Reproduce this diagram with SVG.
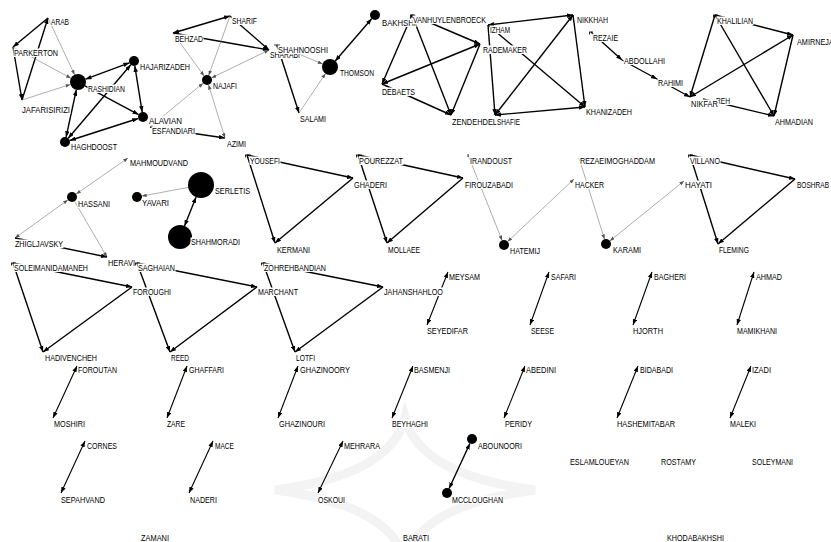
<svg xmlns="http://www.w3.org/2000/svg" width="831" height="542" viewBox="0 0 831 542">
<defs>
<style>
.k{stroke:#000;stroke-width:1.4;fill:none}
.g{stroke:#777;stroke-width:0.6;fill:none}
.p{stroke:#000;stroke-width:1.1;fill:none}
.e{marker-end:url(#ak)}
.b{marker-start:url(#ak);marker-end:url(#ak)}
.ge{marker-end:url(#ag)}
.gb{marker-start:url(#ag);marker-end:url(#ag)}
rect.l{fill:#fff}
text{font-family:"Liberation Sans",Arial,sans-serif;font-size:9px;fill:#000}
.d{fill:#000}
.m{stroke:#000;stroke-width:0.8;fill:none}
.wm{stroke:#f3f3f3;stroke-width:9;fill:none}
</style>
<marker id="ak" viewBox="0 0 8 6" refX="8" refY="3" markerWidth="6" markerHeight="4.5" markerUnits="userSpaceOnUse" orient="auto-start-reverse"><path d="M0,0 L8,3 L0,6 z" fill="#000"/></marker>
<marker id="ag" viewBox="0 0 8 6" refX="8" refY="3" markerWidth="5" markerHeight="3.6" markerUnits="userSpaceOnUse" orient="auto-start-reverse"><path d="M0,0 L8,3 L0,6 z" fill="#555"/></marker>
</defs>
<rect width="831" height="542" fill="#fff"/>
<g id="watermark">
<path class="wm" d="M405,418 Q420,475 535,490 Q420,505 405,560 Q390,505 275,490 Q390,475 405,418 Z"/>
</g>
<g id="edges">
<line class="k e" x1="48" y1="18" x2="13" y2="47"/>
<line class="k e" x1="13" y1="47" x2="22" y2="100"/>
<line class="k e" x1="22" y1="100" x2="48" y2="18"/>
<line class="g ge" x1="48" y1="18" x2="74.6" y2="74.8"/>
<line class="g ge" x1="13" y1="47" x2="71" y2="78.2"/>
<line class="g ge" x1="22" y1="100" x2="70.4" y2="84.4"/>
<line class="k b" x1="85.5" y1="79.2" x2="129.3" y2="62.8"/>
<line class="k e" x1="85" y1="85.8" x2="138.6" y2="114.6"/>
<line class="k b" x1="76.3" y1="89.8" x2="66.1" y2="137.1"/>
<line class="k b" x1="134.8" y1="65.9" x2="142.2" y2="112.1"/>
<line class="k b" x1="68.2" y1="138.2" x2="130.8" y2="64.8"/>
<line class="k b" x1="69.8" y1="140.5" x2="138.2" y2="118.5"/>
<line class="k b" x1="173" y1="33" x2="230" y2="16"/>
<line class="k e" x1="173" y1="33" x2="269" y2="50"/>
<line class="k e" x1="230" y1="16" x2="269" y2="50"/>
<line class="k e" x1="150" y1="127" x2="225" y2="138"/>
<line class="g ge" x1="150" y1="127" x2="203.1" y2="83.2"/>
<line class="g ge" x1="230" y1="16" x2="208.7" y2="75.3"/>
<line class="g ge" x1="173" y1="33" x2="204.1" y2="76"/>
<line class="g gb" x1="269" y1="50" x2="211.5" y2="77.9"/>
<line class="g gb" x1="208.5" y1="84.8" x2="225" y2="138"/>
<line class="k e" x1="277" y1="45" x2="299" y2="113"/>
<line class="g ge" x1="299" y1="113" x2="325.5" y2="73.6"/>
<line class="g ge" x1="277" y1="45" x2="322.6" y2="63.9"/>
<line class="k b" x1="335.2" y1="61" x2="371.7" y2="18.8"/>
<line class="k e" x1="412" y1="15" x2="382" y2="84"/>
<line class="k e" x1="412" y1="15" x2="451" y2="115"/>
<line class="k e" x1="412" y1="15" x2="480" y2="44"/>
<line class="k b" x1="382" y1="84" x2="480" y2="44"/>
<line class="k e" x1="382" y1="84" x2="451" y2="115"/>
<line class="k e" x1="480" y1="44" x2="451" y2="115"/>
<line class="k b" x1="488" y1="25" x2="573" y2="15"/>
<line class="k e" x1="488" y1="25" x2="495" y2="115"/>
<line class="k e" x1="488" y1="25" x2="585" y2="107"/>
<line class="k b" x1="573" y1="15" x2="495" y2="115"/>
<line class="k e" x1="573" y1="15" x2="585" y2="107"/>
<line class="k b" x1="495" y1="115" x2="585" y2="107"/>
<line class="k e" x1="591" y1="32" x2="622" y2="60"/>
<line class="k e" x1="622" y1="60" x2="657" y2="79"/>
<line class="k e" x1="657" y1="79" x2="690" y2="97"/>
<line class="k e" x1="715" y1="15" x2="793" y2="35"/>
<line class="k e" x1="715" y1="15" x2="690" y2="97"/>
<line class="k e" x1="715" y1="15" x2="774" y2="116"/>
<line class="k b" x1="793" y1="35" x2="690" y2="97"/>
<line class="k e" x1="793" y1="35" x2="774" y2="116"/>
<line class="k e" x1="703" y1="99" x2="774" y2="116"/>
<line class="g gb" x1="76.1" y1="194.1" x2="128" y2="158"/>
<line class="g gb" x1="67.9" y1="199.9" x2="15" y2="238"/>
<line class="g ge" x1="74.5" y1="201.3" x2="107" y2="257"/>
<line class="k e" x1="15" y1="238" x2="107" y2="257"/>
<line class="g ge" x1="188.2" y1="187.4" x2="141.9" y2="196.1"/>
<line class="k b" x1="196.1" y1="197.1" x2="184.5" y2="225.9"/>
<line class="k e" x1="247" y1="155" x2="353" y2="178"/>
<line class="k e" x1="247" y1="155" x2="275" y2="243"/>
<line class="k e" x1="353" y1="178" x2="275" y2="243"/>
<line class="k e" x1="358" y1="155" x2="463" y2="178"/>
<line class="k e" x1="358" y1="155" x2="387" y2="243"/>
<line class="k e" x1="463" y1="178" x2="387" y2="243"/>
<line class="g ge" x1="468" y1="155" x2="502.1" y2="240.4"/>
<line class="g gb" x1="507.6" y1="241.6" x2="574" y2="179"/>
<line class="g ge" x1="579" y1="158" x2="604.5" y2="239.2"/>
<line class="g gb" x1="609.9" y1="240.9" x2="684" y2="181"/>
<line class="k e" x1="690" y1="155" x2="795" y2="179"/>
<line class="k e" x1="690" y1="155" x2="718" y2="244"/>
<line class="k e" x1="795" y1="179" x2="718" y2="244"/>
<line class="k e" x1="13" y1="263" x2="132" y2="287"/>
<line class="k e" x1="13" y1="263" x2="43" y2="352"/>
<line class="k e" x1="132" y1="287" x2="43" y2="352"/>
<line class="k e" x1="137" y1="263" x2="257" y2="287"/>
<line class="k e" x1="137" y1="263" x2="170" y2="352"/>
<line class="k e" x1="257" y1="287" x2="170" y2="352"/>
<line class="k e" x1="263" y1="263" x2="383" y2="287"/>
<line class="k e" x1="263" y1="263" x2="295" y2="352"/>
<line class="k e" x1="383" y1="287" x2="295" y2="352"/>
<line class="p b" x1="77" y1="366" x2="53" y2="418"/>
<line class="p b" x1="187" y1="366" x2="167" y2="418"/>
<line class="p b" x1="298" y1="366" x2="278" y2="418"/>
<line class="p b" x1="413" y1="366" x2="392" y2="418"/>
<line class="p b" x1="448" y1="272" x2="427" y2="325"/>
<line class="p b" x1="549" y1="272" x2="530" y2="325"/>
<line class="p b" x1="652" y1="272" x2="633" y2="325"/>
<line class="p b" x1="754" y1="272" x2="737" y2="325"/>
<line class="p b" x1="525" y1="366" x2="504" y2="418"/>
<line class="p b" x1="638" y1="366" x2="617" y2="418"/>
<line class="p b" x1="751" y1="366" x2="730" y2="418"/>
<line class="p b" x1="85" y1="441" x2="61" y2="493"/>
<line class="p b" x1="213" y1="441" x2="189" y2="493"/>
<line class="p b" x1="343" y1="441" x2="318" y2="493"/>
<line class="k b" x1="469.9" y1="443.5" x2="449.1" y2="488.5"/>
</g>
<g id="n-arab"><rect class="l" x="50.5" y="17.5" width="19" height="8.5"/><text x="51" y="25" textLength="18" lengthAdjust="spacingAndGlyphs">ARAB</text></g>
<g id="n-parkerton"><rect class="l" x="13.5" y="48.5" width="45" height="8.5"/><text x="14" y="56" textLength="44" lengthAdjust="spacingAndGlyphs">PARKERTON</text></g>
<g id="n-jafarisirizi"><rect class="l" x="21.5" y="105.5" width="49" height="8.5"/><text x="22" y="113" textLength="48" lengthAdjust="spacingAndGlyphs">JAFARISIRIZI</text></g>
<g id="n-rashidian"><circle class="d" cx="78" cy="82" r="8"/><rect class="l" x="87.5" y="84.5" width="38" height="8.5"/><text x="88" y="92" textLength="37" lengthAdjust="spacingAndGlyphs">RASHIDIAN</text></g>
<g id="n-hajarizadeh"><circle class="d" cx="134" cy="61" r="5"/><rect class="l" x="139.5" y="62.5" width="51" height="8.5"/><text x="140" y="70" textLength="50" lengthAdjust="spacingAndGlyphs">HAJARIZADEH</text></g>
<g id="n-alavian"><circle class="d" cx="143" cy="117" r="5"/><rect class="l" x="148.5" y="116.5" width="34" height="8.5"/><text x="149" y="124" textLength="33" lengthAdjust="spacingAndGlyphs">ALAVIAN</text></g>
<g id="n-esfandiari"><rect class="l" x="151.5" y="126.5" width="44" height="8.5"/><text x="152" y="134" textLength="43" lengthAdjust="spacingAndGlyphs">ESFANDIARI</text></g>
<g id="n-haghdoost"><circle class="d" cx="65" cy="142" r="5"/><rect class="l" x="70.5" y="142.5" width="47" height="8.5"/><text x="71" y="150" textLength="46" lengthAdjust="spacingAndGlyphs">HAGHDOOST</text></g>
<g id="n-behzad"><rect class="l" x="174.5" y="34.5" width="29" height="8.5"/><text x="175" y="42" textLength="28" lengthAdjust="spacingAndGlyphs">BEHZAD</text></g>
<g id="n-sharif"><rect class="l" x="231.5" y="16.5" width="26" height="8.5"/><text x="232" y="24" textLength="25" lengthAdjust="spacingAndGlyphs">SHARIF</text></g>
<g id="n-sharabi"><rect class="l" x="269.5" y="50.5" width="31" height="8.5"/><text x="270" y="58" textLength="30" lengthAdjust="spacingAndGlyphs">SHARABI</text></g>
<g id="n-shahnooshi"><path class="m" d="M274,45 h6 M277,45 v2.5"/><rect class="l" x="277.5" y="45.5" width="51" height="8.5"/><text x="278" y="53" textLength="50" lengthAdjust="spacingAndGlyphs">SHAHNOOSHI</text></g>
<g id="n-najafi"><circle class="d" cx="207" cy="80" r="5"/><rect class="l" x="212.5" y="81.5" width="25" height="8.5"/><text x="213" y="89" textLength="24" lengthAdjust="spacingAndGlyphs">NAJAFI</text></g>
<g id="n-azimi"><rect class="l" x="226.5" y="139.5" width="20" height="8.5"/><text x="227" y="147" textLength="19" lengthAdjust="spacingAndGlyphs">AZIMI</text></g>
<g id="n-salami"><rect class="l" x="299.5" y="114.5" width="27" height="8.5"/><text x="300" y="122" textLength="26" lengthAdjust="spacingAndGlyphs">SALAMI</text></g>
<g id="n-thomson"><circle class="d" cx="330" cy="67" r="8"/><rect class="l" x="339.5" y="68.5" width="35" height="8.5"/><text x="340" y="76" textLength="34" lengthAdjust="spacingAndGlyphs">THOMSON</text></g>
<g id="n-bakhshi"><circle class="d" cx="375" cy="15" r="5"/><rect class="l" x="381.5" y="18.5" width="35" height="8.5"/><text x="382" y="26" textLength="34" lengthAdjust="spacingAndGlyphs">BAKHSHI</text></g>
<g id="n-vanhuylenbroeck"><path class="m" d="M410,15 h5 M410.5,15 v2.5"/><rect class="l" x="412.5" y="15.5" width="74" height="8.5"/><text x="413" y="23" textLength="73" lengthAdjust="spacingAndGlyphs">VANHUYLENBROECK</text></g>
<g id="n-debaets"><rect class="l" x="381.5" y="87.5" width="34" height="8.5"/><text x="382" y="95" textLength="33" lengthAdjust="spacingAndGlyphs">DEBAETS</text></g>
<g id="n-zendehdel"><rect class="l" x="451.5" y="117.5" width="46" height="8.5"/><text x="452" y="125" textLength="45" lengthAdjust="spacingAndGlyphs">ZENDEHDEL</text></g>
<g id="n-shafie"><rect class="l" x="496.5" y="117.5" width="24" height="8.5"/><text x="497" y="125" textLength="23" lengthAdjust="spacingAndGlyphs">SHAFIE</text></g>
<g id="n-rademaker"><rect class="l" x="482.5" y="45.5" width="45" height="8.5"/><text x="483" y="53" textLength="44" lengthAdjust="spacingAndGlyphs">RADEMAKER</text></g>
<g id="n-izham"><rect class="l" x="489.5" y="25.5" width="21" height="8.5"/><text x="490" y="33" textLength="20" lengthAdjust="spacingAndGlyphs">IZHAM</text></g>
<g id="n-nikkhah"><rect class="l" x="576.5" y="15.5" width="32" height="8.5"/><text x="577" y="23" textLength="31" lengthAdjust="spacingAndGlyphs">NIKKHAH</text></g>
<g id="n-khanizadeh"><rect class="l" x="585.5" y="107.5" width="47" height="8.5"/><text x="586" y="115" textLength="46" lengthAdjust="spacingAndGlyphs">KHANIZADEH</text></g>
<g id="n-rezaie"><path class="m" d="M589,32 h4 M589.5,32 v2.5"/><rect class="l" x="592.5" y="33.5" width="26" height="8.5"/><text x="593" y="41" textLength="25" lengthAdjust="spacingAndGlyphs">REZAIE</text></g>
<g id="n-abdollahi"><rect class="l" x="623.5" y="56.5" width="42" height="8.5"/><text x="624" y="64" textLength="41" lengthAdjust="spacingAndGlyphs">ABDOLLAHI</text></g>
<g id="n-rahimi"><rect class="l" x="657.5" y="78.5" width="26" height="8.5"/><text x="658" y="86" textLength="25" lengthAdjust="spacingAndGlyphs">RAHIMI</text></g>
<g id="n-reh"><rect class="l" x="715.5" y="96.5" width="15" height="8.5"/><text x="716" y="104" textLength="14" lengthAdjust="spacingAndGlyphs">REH</text></g>
<g id="n-nikfar"><rect class="l" x="690.5" y="99.5" width="28" height="8.5"/><text x="691" y="107" textLength="27" lengthAdjust="spacingAndGlyphs">NIKFAR</text></g>
<g id="n-khalilian"><path class="m" d="M713,15 h5 M713.5,15 v2.5"/><rect class="l" x="716.5" y="16.5" width="37" height="8.5"/><text x="717" y="24" textLength="36" lengthAdjust="spacingAndGlyphs">KHALILIAN</text></g>
<g id="n-amirnejad"><rect class="l" x="796.5" y="37.5" width="43" height="8.5"/><text x="797" y="45" textLength="42" lengthAdjust="spacingAndGlyphs">AMIRNEJAD</text></g>
<g id="n-ahmadian"><rect class="l" x="774.5" y="117.5" width="39" height="8.5"/><text x="775" y="125" textLength="38" lengthAdjust="spacingAndGlyphs">AHMADIAN</text></g>
<g id="n-mahmoudvand"><rect class="l" x="129.5" y="158.5" width="59" height="8.5"/><text x="130" y="166" textLength="58" lengthAdjust="spacingAndGlyphs">MAHMOUDVAND</text></g>
<g id="n-hassani"><circle class="d" cx="72" cy="197" r="5"/><rect class="l" x="77.5" y="199.5" width="33" height="8.5"/><text x="78" y="207" textLength="32" lengthAdjust="spacingAndGlyphs">HASSANI</text></g>
<g id="n-zhigljavsky"><rect class="l" x="14.5" y="239.5" width="49" height="8.5"/><text x="15" y="247" textLength="48" lengthAdjust="spacingAndGlyphs">ZHIGLJAVSKY</text></g>
<g id="n-heravi"><rect class="l" x="107.5" y="258.5" width="28" height="8.5"/><text x="108" y="266" textLength="27" lengthAdjust="spacingAndGlyphs">HERAVI</text></g>
<g id="n-yavari"><circle class="d" cx="137" cy="197" r="5"/><rect class="l" x="141.5" y="198.5" width="28" height="8.5"/><text x="142" y="206" textLength="27" lengthAdjust="spacingAndGlyphs">YAVARI</text></g>
<g id="n-serletis"><circle class="d" cx="201" cy="185" r="13"/><rect class="l" x="214.5" y="186.5" width="36" height="8.5"/><text x="215" y="194" textLength="35" lengthAdjust="spacingAndGlyphs">SERLETIS</text></g>
<g id="n-shahmoradi"><circle class="d" cx="180" cy="237" r="12"/><rect class="l" x="190.5" y="237.5" width="50" height="8.5"/><text x="191" y="245" textLength="49" lengthAdjust="spacingAndGlyphs">SHAHMORADI</text></g>
<g id="n-yousefi"><path class="m" d="M245,155 h6 M245.5,155 v2.5"/><rect class="l" x="249.5" y="156.5" width="31" height="8.5"/><text x="250" y="164" textLength="30" lengthAdjust="spacingAndGlyphs">YOUSEFI</text></g>
<g id="n-ghaderi"><rect class="l" x="353.5" y="180.5" width="34" height="8.5"/><text x="354" y="188" textLength="33" lengthAdjust="spacingAndGlyphs">GHADERI</text></g>
<g id="n-kermani"><rect class="l" x="276.5" y="245.5" width="34" height="8.5"/><text x="277" y="253" textLength="33" lengthAdjust="spacingAndGlyphs">KERMANI</text></g>
<g id="n-pourezzat"><path class="m" d="M356,155 h6 M356.5,155 v2.5"/><rect class="l" x="358.5" y="156.5" width="45" height="8.5"/><text x="359" y="164" textLength="44" lengthAdjust="spacingAndGlyphs">POUREZZAT</text></g>
<g id="n-mollaee"><rect class="l" x="387.5" y="245.5" width="33" height="8.5"/><text x="388" y="253" textLength="32" lengthAdjust="spacingAndGlyphs">MOLLAEE</text></g>
<g id="n-firouzabadi"><rect class="l" x="464.5" y="180.5" width="49" height="8.5"/><text x="465" y="188" textLength="48" lengthAdjust="spacingAndGlyphs">FIROUZABADI</text></g>
<g id="n-irandoust"><path class="m" d="M468,154 v3"/><rect class="l" x="469.5" y="156.5" width="43" height="8.5"/><text x="470" y="164" textLength="42" lengthAdjust="spacingAndGlyphs">IRANDOUST</text></g>
<g id="n-hatemij"><circle class="d" cx="504" cy="245" r="5"/><rect class="l" x="509.5" y="246.5" width="31" height="8.5"/><text x="510" y="254" textLength="30" lengthAdjust="spacingAndGlyphs">HATEMIJ</text></g>
<g id="n-rezaeimoghaddam"><rect class="l" x="579.5" y="156.5" width="76" height="8.5"/><text x="580" y="164" textLength="75" lengthAdjust="spacingAndGlyphs">REZAEIMOGHADDAM</text></g>
<g id="n-hacker"><rect class="l" x="574.5" y="180.5" width="30" height="8.5"/><text x="575" y="188" textLength="29" lengthAdjust="spacingAndGlyphs">HACKER</text></g>
<g id="n-karami"><circle class="d" cx="606" cy="244" r="5"/><rect class="l" x="612.5" y="245.5" width="29" height="8.5"/><text x="613" y="253" textLength="28" lengthAdjust="spacingAndGlyphs">KARAMI</text></g>
<g id="n-hayati"><rect class="l" x="684.5" y="180.5" width="28" height="8.5"/><text x="685" y="188" textLength="27" lengthAdjust="spacingAndGlyphs">HAYATI</text></g>
<g id="n-villano"><path class="m" d="M688,155 h5 M688.5,155 v2.5"/><rect class="l" x="689.5" y="156.5" width="31" height="8.5"/><text x="690" y="164" textLength="30" lengthAdjust="spacingAndGlyphs">VILLANO</text></g>
<g id="n-boshrab"><rect class="l" x="796.5" y="180.5" width="33" height="8.5"/><text x="797" y="188" textLength="32" lengthAdjust="spacingAndGlyphs">BOSHRAB</text></g>
<g id="n-fleming"><rect class="l" x="718.5" y="245.5" width="31" height="8.5"/><text x="719" y="253" textLength="30" lengthAdjust="spacingAndGlyphs">FLEMING</text></g>
<g id="n-soleimanidamaneh"><path class="m" d="M11,263 h5 M11.5,263 v2.5"/><rect class="l" x="13.5" y="263.5" width="75" height="8.5"/><text x="14" y="271" textLength="74" lengthAdjust="spacingAndGlyphs">SOLEIMANIDAMANEH</text></g>
<g id="n-foroughi"><rect class="l" x="132.5" y="287.5" width="39" height="8.5"/><text x="133" y="295" textLength="38" lengthAdjust="spacingAndGlyphs">FOROUGHI</text></g>
<g id="n-hadivencheh"><rect class="l" x="44.5" y="353.5" width="53" height="8.5"/><text x="45" y="361" textLength="52" lengthAdjust="spacingAndGlyphs">HADIVENCHEH</text></g>
<g id="n-saghaian"><path class="m" d="M135,263 h5 M135.5,263 v2.5"/><rect class="l" x="137.5" y="263.5" width="38" height="8.5"/><text x="138" y="271" textLength="37" lengthAdjust="spacingAndGlyphs">SAGHAIAN</text></g>
<g id="n-marchant"><rect class="l" x="257.5" y="287.5" width="41" height="8.5"/><text x="258" y="295" textLength="40" lengthAdjust="spacingAndGlyphs">MARCHANT</text></g>
<g id="n-reed"><rect class="l" x="170.5" y="353.5" width="19" height="8.5"/><text x="171" y="361" textLength="18" lengthAdjust="spacingAndGlyphs">REED</text></g>
<g id="n-zohrehbandian"><path class="m" d="M261,263 h5 M261.5,263 v2.5"/><rect class="l" x="263.5" y="263.5" width="63" height="8.5"/><text x="264" y="271" textLength="62" lengthAdjust="spacingAndGlyphs">ZOHREHBANDIAN</text></g>
<g id="n-jahanshahloo"><rect class="l" x="383.5" y="287.5" width="60" height="8.5"/><text x="384" y="295" textLength="59" lengthAdjust="spacingAndGlyphs">JAHANSHAHLOO</text></g>
<g id="n-lotfi"><rect class="l" x="295.5" y="353.5" width="20" height="8.5"/><text x="296" y="361" textLength="19" lengthAdjust="spacingAndGlyphs">LOTFI</text></g>
<g id="n-foroutan"><rect class="l" x="77.5" y="365.5" width="40" height="8.5"/><text x="78" y="373" textLength="39" lengthAdjust="spacingAndGlyphs">FOROUTAN</text></g>
<g id="n-moshiri"><rect class="l" x="53.5" y="419.5" width="32" height="8.5"/><text x="54" y="427" textLength="31" lengthAdjust="spacingAndGlyphs">MOSHIRI</text></g>
<g id="n-ghaffari"><rect class="l" x="188.5" y="365.5" width="36" height="8.5"/><text x="189" y="373" textLength="35" lengthAdjust="spacingAndGlyphs">GHAFFARI</text></g>
<g id="n-zare"><rect class="l" x="166.5" y="419.5" width="19" height="8.5"/><text x="167" y="427" textLength="18" lengthAdjust="spacingAndGlyphs">ZARE</text></g>
<g id="n-ghazinoory"><rect class="l" x="299.5" y="365.5" width="51" height="8.5"/><text x="300" y="373" textLength="50" lengthAdjust="spacingAndGlyphs">GHAZINOORY</text></g>
<g id="n-ghazinouri"><rect class="l" x="278.5" y="419.5" width="47" height="8.5"/><text x="279" y="427" textLength="46" lengthAdjust="spacingAndGlyphs">GHAZINOURI</text></g>
<g id="n-basmenji"><rect class="l" x="413.5" y="365.5" width="37" height="8.5"/><text x="414" y="373" textLength="36" lengthAdjust="spacingAndGlyphs">BASMENJI</text></g>
<g id="n-beyhaghi"><rect class="l" x="391.5" y="419.5" width="37" height="8.5"/><text x="392" y="427" textLength="36" lengthAdjust="spacingAndGlyphs">BEYHAGHI</text></g>
<g id="n-meysam"><rect class="l" x="448.5" y="272.5" width="32" height="8.5"/><text x="449" y="280" textLength="31" lengthAdjust="spacingAndGlyphs">MEYSAM</text></g>
<g id="n-seyedifar"><rect class="l" x="426.5" y="326.5" width="42" height="8.5"/><text x="427" y="334" textLength="41" lengthAdjust="spacingAndGlyphs">SEYEDIFAR</text></g>
<g id="n-safari"><rect class="l" x="550.5" y="272.5" width="26" height="8.5"/><text x="551" y="280" textLength="25" lengthAdjust="spacingAndGlyphs">SAFARI</text></g>
<g id="n-seese"><rect class="l" x="530.5" y="326.5" width="24" height="8.5"/><text x="531" y="334" textLength="23" lengthAdjust="spacingAndGlyphs">SEESE</text></g>
<g id="n-bagheri"><rect class="l" x="653.5" y="272.5" width="33" height="8.5"/><text x="654" y="280" textLength="32" lengthAdjust="spacingAndGlyphs">BAGHERI</text></g>
<g id="n-hjorth"><rect class="l" x="632.5" y="326.5" width="31" height="8.5"/><text x="633" y="334" textLength="30" lengthAdjust="spacingAndGlyphs">HJORTH</text></g>
<g id="n-ahmad"><rect class="l" x="755.5" y="272.5" width="27" height="8.5"/><text x="756" y="280" textLength="26" lengthAdjust="spacingAndGlyphs">AHMAD</text></g>
<g id="n-mamikhani"><rect class="l" x="736.5" y="326.5" width="41" height="8.5"/><text x="737" y="334" textLength="40" lengthAdjust="spacingAndGlyphs">MAMIKHANI</text></g>
<g id="n-abedini"><rect class="l" x="525.5" y="365.5" width="31" height="8.5"/><text x="526" y="373" textLength="30" lengthAdjust="spacingAndGlyphs">ABEDINI</text></g>
<g id="n-peridy"><rect class="l" x="504.5" y="419.5" width="28" height="8.5"/><text x="505" y="427" textLength="27" lengthAdjust="spacingAndGlyphs">PERIDY</text></g>
<g id="n-bidabadi"><rect class="l" x="639.5" y="365.5" width="34" height="8.5"/><text x="640" y="373" textLength="33" lengthAdjust="spacingAndGlyphs">BIDABADI</text></g>
<g id="n-hashemitabar"><rect class="l" x="616.5" y="419.5" width="59" height="8.5"/><text x="617" y="427" textLength="58" lengthAdjust="spacingAndGlyphs">HASHEMITABAR</text></g>
<g id="n-izadi"><rect class="l" x="751.5" y="365.5" width="20" height="8.5"/><text x="752" y="373" textLength="19" lengthAdjust="spacingAndGlyphs">IZADI</text></g>
<g id="n-maleki"><rect class="l" x="729.5" y="419.5" width="27" height="8.5"/><text x="730" y="427" textLength="26" lengthAdjust="spacingAndGlyphs">MALEKI</text></g>
<g id="n-cornes"><rect class="l" x="86.5" y="441.5" width="31" height="8.5"/><text x="87" y="449" textLength="30" lengthAdjust="spacingAndGlyphs">CORNES</text></g>
<g id="n-sepahvand"><rect class="l" x="60.5" y="495.5" width="45" height="8.5"/><text x="61" y="503" textLength="44" lengthAdjust="spacingAndGlyphs">SEPAHVAND</text></g>
<g id="n-mace"><rect class="l" x="214.5" y="441.5" width="20" height="8.5"/><text x="215" y="449" textLength="19" lengthAdjust="spacingAndGlyphs">MACE</text></g>
<g id="n-naderi"><rect class="l" x="189.5" y="495.5" width="28" height="8.5"/><text x="190" y="503" textLength="27" lengthAdjust="spacingAndGlyphs">NADERI</text></g>
<g id="n-mehrara"><rect class="l" x="343.5" y="441.5" width="37" height="8.5"/><text x="344" y="449" textLength="36" lengthAdjust="spacingAndGlyphs">MEHRARA</text></g>
<g id="n-oskoui"><rect class="l" x="317.5" y="495.5" width="28" height="8.5"/><text x="318" y="503" textLength="27" lengthAdjust="spacingAndGlyphs">OSKOUI</text></g>
<g id="n-abounoori"><circle class="d" cx="472" cy="439" r="5"/><rect class="l" x="477.5" y="441.5" width="45" height="8.5"/><text x="478" y="449" textLength="44" lengthAdjust="spacingAndGlyphs">ABOUNOORI</text></g>
<g id="n-mccloughan"><circle class="d" cx="447" cy="493" r="5"/><rect class="l" x="451.5" y="495.5" width="52" height="8.5"/><text x="452" y="503" textLength="51" lengthAdjust="spacingAndGlyphs">MCCLOUGHAN</text></g>
<g id="n-eslamloueyan"><text x="570" y="465" textLength="59" lengthAdjust="spacingAndGlyphs">ESLAMLOUEYAN</text></g>
<g id="n-rostamy"><text x="661" y="465" textLength="35" lengthAdjust="spacingAndGlyphs">ROSTAMY</text></g>
<g id="n-soleymani"><text x="752" y="465" textLength="41" lengthAdjust="spacingAndGlyphs">SOLEYMANI</text></g>
<g id="n-zamani"><text x="141" y="541" textLength="28" lengthAdjust="spacingAndGlyphs">ZAMANI</text></g>
<g id="n-barati"><text x="403" y="541" textLength="26" lengthAdjust="spacingAndGlyphs">BARATI</text></g>
<g id="n-khodabakhshi"><text x="667" y="541" textLength="57" lengthAdjust="spacingAndGlyphs">KHODABAKHSHI</text></g>
</svg>
